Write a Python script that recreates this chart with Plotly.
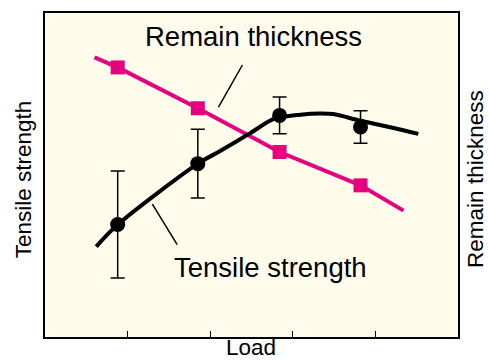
import plotly.graph_objects as go

# Data (arbitrary units, x range 0-5, y range 0-100)
load_pts = [0.88, 1.85, 2.84, 3.82]
remain_thickness = [83.2, 70.6, 57.1, 46.8]
remain_line_x = [0.60, 0.88, 1.85, 2.84, 3.82, 4.34]
remain_line_y = [86.3, 83.2, 70.6, 57.1, 46.8, 39.0]

tensile_strength = [34.7, 53.5, 68.4, 64.8]
tensile_err = [16.5, 10.6, 5.7, 5.0]
tensile_curve_x = [0.62, 0.88, 1.85, 2.12, 2.49, 2.77, 3.09, 3.33, 3.49, 3.81, 4.22, 4.52]
tensile_curve_y = [27.9, 34.7, 53.5, 57.4, 63.0, 67.3, 68.6, 69.0, 68.8, 66.8, 64.5, 62.7]

x_ticks = [1, 2, 3, 4]

PINK = "#E4007F"
BG = "#FFFCEB"
FONT = "Liberation Sans, Arial, sans-serif"

fig = go.Figure()

fig.add_trace(go.Scatter(x=remain_line_x, y=remain_line_y, mode="lines",
                         line=dict(color=PINK, width=4), hoverinfo="skip"))
fig.add_trace(go.Scatter(x=load_pts, y=remain_thickness, mode="markers",
                         marker=dict(symbol="square", size=14, color=PINK)))
fig.add_trace(go.Scatter(x=tensile_curve_x, y=tensile_curve_y, mode="lines",
                         line=dict(color="black", width=4, shape="spline", smoothing=0.8),
                         hoverinfo="skip"))
fig.add_trace(go.Scatter(x=load_pts, y=tensile_strength, mode="markers",
                         marker=dict(symbol="circle", size=15, color="black"),
                         error_y=dict(type="data", array=tensile_err, visible=True,
                                      color="black", thickness=1.5, width=7)))

# pointer lines
fig.add_shape(type="line", x0=2.39, y0=83.95, x1=2.10, y1=70.95,
              line=dict(color="black", width=1.5))
fig.add_shape(type="line", x0=1.30, y0=41.0, x1=1.60, y1=28.5,
              line=dict(color="black", width=1.5))

fig.add_annotation(x=2.53, y=92.6, text="Remain thickness", showarrow=False,
                   font=dict(size=27.5, color="black", family=FONT))
fig.add_annotation(x=2.73, y=21.5, text="Tensile strength", showarrow=False,
                   font=dict(size=27.5, color="black", family=FONT))

# axis titles
fig.add_annotation(xref="paper", yref="paper", x=-0.053, y=0.487, text="Tensile strength",
                   textangle=-90, showarrow=False, xanchor="center", yanchor="middle",
                   font=dict(size=22.5, color="black", family=FONT))
fig.add_annotation(xref="paper", yref="paper", x=1.0436, y=0.488, text="Remain thickness",
                   textangle=-90, showarrow=False, xanchor="center", yanchor="middle",
                   font=dict(size=22.5, color="black", family=FONT))
fig.add_annotation(xref="paper", yref="paper", x=0.498, y=-0.0767, text="Load",
                   showarrow=False, xanchor="center", yanchor="bottom",
                   font=dict(size=22.5, color="black", family=FONT))

fig.update_layout(
    width=489, height=362,
    margin=dict(l=45, r=31, t=11, b=25),
    paper_bgcolor="white", plot_bgcolor=BG,
    showlegend=False,
    xaxis=dict(range=[0, 5], tickvals=x_ticks, ticks="inside", ticklen=6,
               tickcolor="black", tickwidth=1, showticklabels=False,
               showgrid=False, zeroline=False, showline=True, linecolor="black",
               linewidth=2, mirror=True),
    yaxis=dict(range=[0, 100], showticklabels=False, ticks="", showgrid=False,
               zeroline=False, showline=True, linecolor="black", linewidth=2, mirror=True),
)

fig.write_html("out.html", config={"displayModeBar": False},
               post_script="document.body.style.margin='0';document.body.style.overflow='hidden';")
